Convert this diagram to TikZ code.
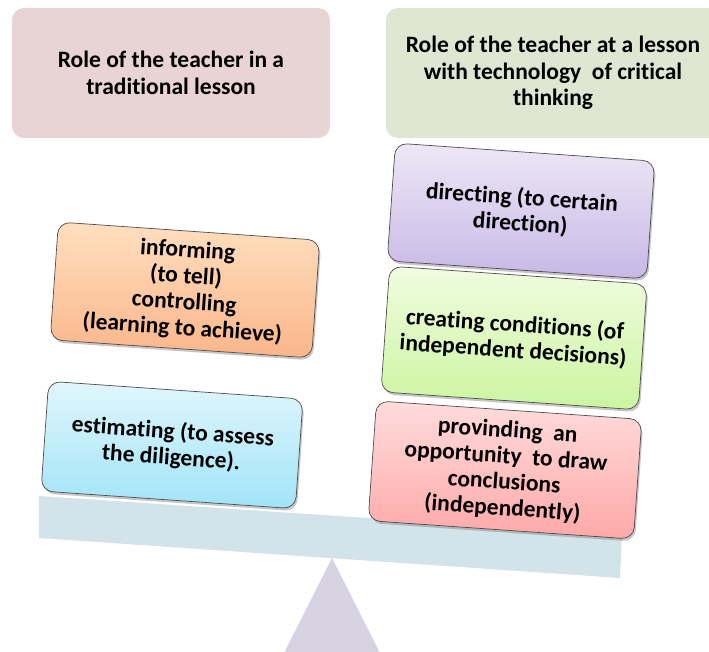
\documentclass[tikz,border=0pt]{standalone}
\usepackage{fontspec}
\setmainfont{Carlito}[Ligatures={NoCommon}]
\usetikzlibrary{shadows}
\definecolor{hdrL}{RGB}{232,212,212}
\definecolor{hdrR}{RGB}{223,230,210}
\definecolor{beamc}{RGB}{210,227,233}
\definecolor{fulc}{RGB}{214,210,226}
\begin{document}
\begin{tikzpicture}[x=1pt,y=-1pt,
  hdr/.style={rounded corners=12pt, minimum height=130pt, align=center,
    font=\bfseries\fontsize{23.5}{26.5}\selectfont, inner sep=0pt},
  card/.style={draw=black!70, line width=0.7pt, rounded corners=12pt, align=center,
    rotate=-4, font=\bfseries\fontsize{23.5}{26}\selectfont, inner sep=0pt,
    drop shadow={opacity=0.45, shadow xshift=1.5pt, shadow yshift=-2.5pt}}]
\useasboundingbox (0,0) rectangle (709,652);
% headers
\node[hdr, fill=hdrL, minimum width=318pt] (hl) at (171,73)
  {Role of the teacher in a\\traditional lesson};
\node[hdr, fill=hdrR, minimum width=334pt] (hr) at (553,73)
  {Role of the teacher at a lesson\\with technology~ of critical\\thinking};
% fulcrum and beam
\fill[fulc] (332,558) -- (283,655) -- (381,655) -- cycle;
\fill[beamc] (39,496) -- (622,535) -- (620,578) -- (39,538) -- cycle;
% cards
\node[card, top color=orange!25!white, bottom color={rgb,255:red,250;green,181;blue,138},
  minimum width=262pt, minimum height=118pt] (inf) at (185,290)
  {informing\\(to tell)\\controlling\\(learning to achieve)};
\node[card, top color={rgb,255:red,225;green,246;blue,252}, bottom color={rgb,255:red,160;green,228;blue,248},
  minimum width=255pt, minimum height=110pt] (est) at (172,445)
  {estimating (to assess\\the diligence).};
\node[card, top color={rgb,255:red,237;green,231;blue,246}, bottom color={rgb,255:red,200;green,184;blue,230},
  minimum width=260pt, minimum height=118pt] (dir) at (521,211)
  {directing (to certain\\direction)};
\node[card, top color={rgb,255:red,240;green,252;blue,224}, bottom color={rgb,255:red,204;green,245;blue,160},
  minimum width=258pt, minimum height=126pt] (cre) at (514,338)
  {creating conditions (of\\independent decisions)};
\node[card, top color={rgb,255:red,255;green,220;blue,220}, bottom color={rgb,255:red,255;green,168;blue,168},
  minimum width=266pt, minimum height=120pt] (pro) at (505,470)
  {provinding~ an\\opportunity~ to draw\\conclusions\\(independently)};
\end{tikzpicture}
\end{document}
